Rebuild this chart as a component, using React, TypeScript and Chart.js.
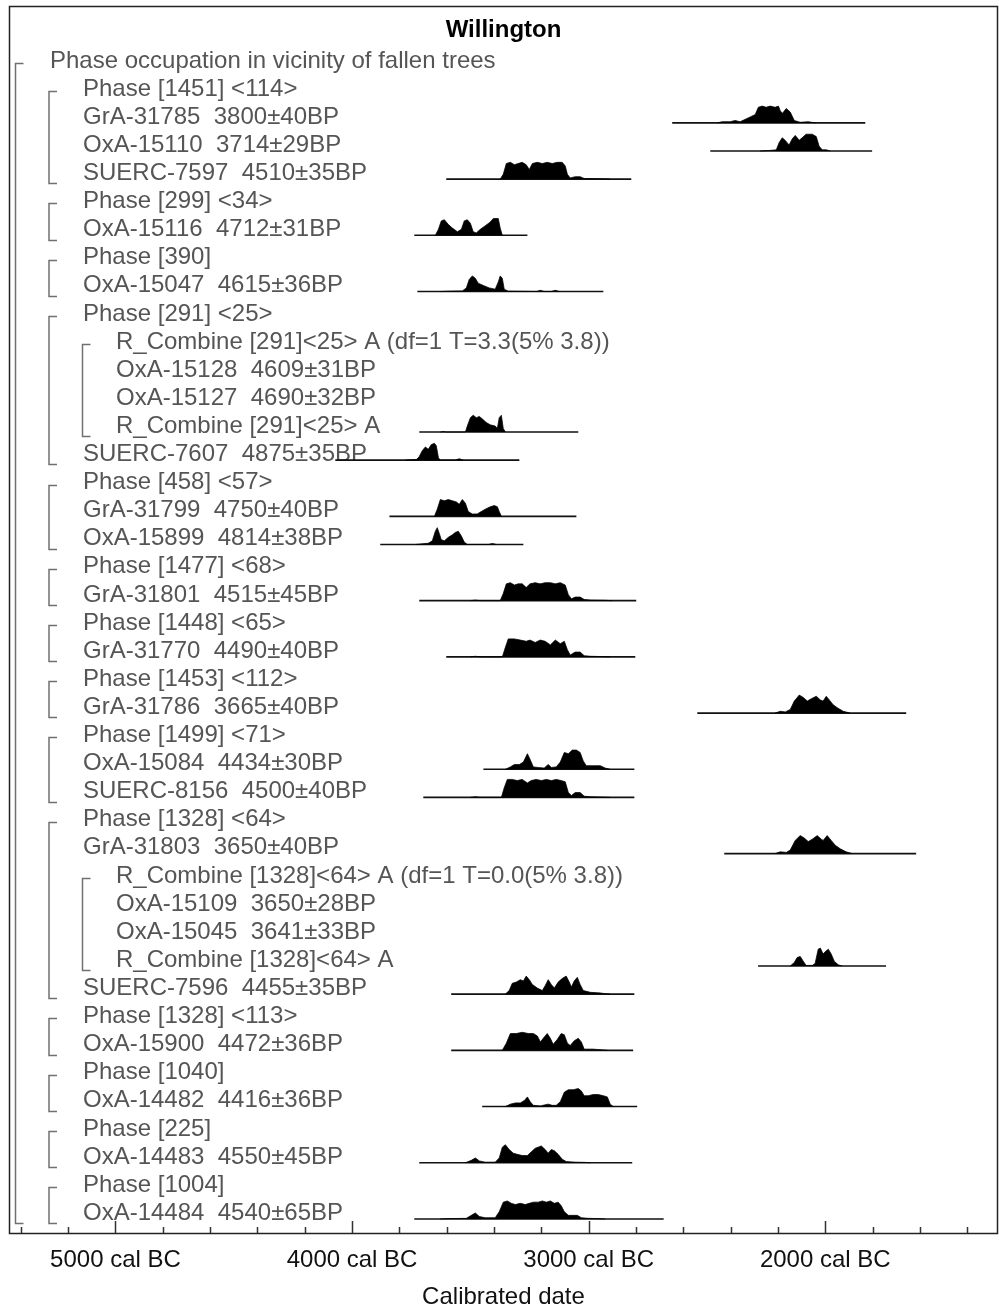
import React, { useEffect, useRef } from 'react';
import { Chart, registerables } from 'chart.js';

Chart.register(...registerables);

const titleText = 'Willington';
const axisTitle = 'Calibrated date';

const majorTickYears = [-5000, -4000, -3000, -2000];
const majorTickLabels = ['5000 cal BC', '4000 cal BC', '3000 cal BC', '2000 cal BC'];
const minorTickYears = [-5400, -5200, -4800, -4600, -4400, -4200, -3800, -3600, -3400, -3200, -2800, -2600, -2400, -2200, -1800, -1600, -1400];

const rowLabels = [
  'Phase occupation in vicinity of fallen trees',
  'Phase [1451] <114>',
  'GrA-31785  3800±40BP',
  'OxA-15110  3714±29BP',
  'SUERC-7597  4510±35BP',
  'Phase [299] <34>',
  'OxA-15116  4712±31BP',
  'Phase [390]',
  'OxA-15047  4615±36BP',
  'Phase [291] <25>',
  'R_Combine [291]<25> A (df=1 T=3.3(5% 3.8))',
  'OxA-15128  4609±31BP',
  'OxA-15127  4690±32BP',
  'R_Combine [291]<25> A',
  'SUERC-7607  4875±35BP',
  'Phase [458] <57>',
  'GrA-31799  4750±40BP',
  'OxA-15899  4814±38BP',
  'Phase [1477] <68>',
  'GrA-31801  4515±45BP',
  'Phase [1448] <65>',
  'GrA-31770  4490±40BP',
  'Phase [1453] <112>',
  'GrA-31786  3665±40BP',
  'Phase [1499] <71>',
  'OxA-15084  4434±30BP',
  'SUERC-8156  4500±40BP',
  'Phase [1328] <64>',
  'GrA-31803  3650±40BP',
  'R_Combine [1328]<64> A (df=1 T=0.0(5% 3.8))',
  'OxA-15109  3650±28BP',
  'OxA-15045  3641±33BP',
  'R_Combine [1328]<64> A',
  'SUERC-7596  4455±35BP',
  'Phase [1328] <113>',
  'OxA-15900  4472±36BP',
  'Phase [1040]',
  'OxA-14482  4416±36BP',
  'Phase [225]',
  'OxA-14483  4550±45BP',
  'Phase [1004]',
  'OxA-14484  4540±65BP',
];

const rowLevels = [
  0,
  1, 1, 1, 1,
  1, 1,
  1, 1,
  1, 2, 2, 2, 2, 1,
  1, 1, 1,
  1, 1,
  1, 1,
  1, 1,
  1, 1, 1,
  1, 1, 2, 2, 2, 2, 1,
  1, 1,
  1, 1,
  1, 1,
  1, 1,
];

// [first row, last row, header level]
const groups: [number, number, number][] = [
  [0, 41, 0],
  [1, 4, 1], [5, 6, 1], [7, 8, 1], [9, 14, 1], [10, 13, 2],
  [15, 17, 1], [18, 19, 1], [20, 21, 1], [22, 23, 1], [24, 26, 1],
  [27, 33, 1], [29, 32, 2], [34, 35, 1], [36, 37, 1], [38, 39, 1], [40, 41, 1],
];

// probability curves: [year (negative = BC), relative density]
const grA31785 = [[-2457,0],[-2436,1],[-2402,1],[-2381,2],[-2360,1],[-2338,3],[-2317,5],[-2296,7],[-2283,13],[-2266,14],[-2250,13],[-2233,14],[-2212,13],[-2198,14],[-2190,10],[-2181,8],[-2165,12],[-2148,9],[-2131,2],[-2106,0.5],[-2072,1],[-2042,0]];
const oxA15110 = [[-2275,0],[-2233,0.5],[-2207,1],[-2195,7],[-2182,11],[-2170,9],[-2153,5],[-2140,10],[-2127,13],[-2110,9],[-2098,11],[-2081,14],[-2055,14],[-2038,12],[-2026,4],[-2013,1],[-1996,1],[-1979,0]];
const suerc7597 = [[-3374,0],[-3361,4],[-3348,13],[-3331,14],[-3314,12],[-3298,13],[-3281,14],[-3264,12],[-3251,8],[-3238,13],[-3217,14],[-3196,13],[-3175,14],[-3154,13],[-3133,14],[-3112,14],[-3099,11],[-3090,4],[-3078,1],[-3057,2],[-3036,2],[-3019,0.5],[-2951,0.3],[-2909,0]];
const oxA15116 = [[-3648,0],[-3635,5],[-3623,12],[-3610,13],[-3593,9],[-3576,6],[-3555,3],[-3538,5],[-3526,12],[-3513,13],[-3500,10],[-3488,3],[-3475,2],[-3458,5],[-3437,8],[-3416,11],[-3403,14],[-3382,14],[-3374,6],[-3365,0]];
const oxA15047 = [[-3627,0],[-3585,0.3],[-3534,0.5],[-3517,3],[-3505,10],[-3492,13],[-3479,11],[-3467,7],[-3445,5],[-3420,3],[-3395,2],[-3382,8],[-3374,13],[-3365,11],[-3357,2],[-3340,0.3],[-3221,0],[-3204,1],[-3188,0],[-3158,0],[-3141,1],[-3124,0]];
const rCombine291 = [[-3627,0],[-3614,0.4],[-3602,0],[-3521,0],[-3513,5],[-3500,12],[-3488,14],[-3475,12],[-3462,13],[-3450,11],[-3433,8],[-3416,6],[-3395,5],[-3386,3],[-3378,12],[-3369,14],[-3361,3],[-3352,0]];
const suerc7607 = [[-3775,0],[-3754,0.4],[-3728,0.5],[-3716,3],[-3703,8],[-3690,11],[-3678,9],[-3665,13],[-3652,14],[-3644,12],[-3635,2],[-3627,0],[-3564,0],[-3547,1.2],[-3530,0]];
const grA31799 = [[-3652,0],[-3640,6],[-3627,14],[-3610,13],[-3593,14],[-3576,13],[-3559,12],[-3547,10],[-3534,14],[-3521,11],[-3509,4],[-3492,2],[-3471,2],[-3454,4],[-3437,6],[-3416,8],[-3399,9],[-3386,8],[-3378,4],[-3369,0]];
const oxA15899 = [[-3733,0],[-3703,0.5],[-3678,1],[-3661,3],[-3648,11],[-3640,14],[-3631,9],[-3623,4],[-3610,3],[-3593,6],[-3576,8],[-3564,10],[-3551,11],[-3538,7],[-3526,2],[-3513,0],[-3424,0],[-3407,0.8],[-3390,0]];
const grA31801 = [[-3500,0],[-3479,0.5],[-3458,0],[-3374,0],[-3361,6],[-3348,14],[-3331,15],[-3314,13],[-3298,14],[-3281,14],[-3264,11],[-3248,14],[-3226,15],[-3205,14],[-3184,15],[-3162,15],[-3141,14],[-3120,15],[-3099,13],[-3086,5],[-3073,1.5],[-3057,3],[-3036,3],[-3019,1],[-2993,0.5],[-2930,0.3],[-2900,0]];
const grA31770 = [[-3500,0],[-3479,0.5],[-3458,0],[-3365,0],[-3352,8],[-3340,15],[-3314,15],[-3289,14],[-3264,13],[-3248,14],[-3226,12],[-3205,14],[-3184,13],[-3162,10],[-3141,14],[-3120,11],[-3103,13],[-3090,6],[-3078,1.5],[-3057,4],[-3036,4],[-3019,1],[-2993,0.5],[-2951,0.3],[-2909,0]];
const grA31786 = [[-2212,0],[-2190,1.5],[-2169,1],[-2148,3],[-2131,10],[-2110,15],[-2093,13],[-2076,10],[-2059,12],[-2038,14],[-2021,11],[-2009,10],[-1996,14],[-1983,11],[-1967,7],[-1946,4],[-1924,1.5],[-1895,0]];
const oxA15084 = [[-3352,0],[-3331,2],[-3314,4],[-3293,4],[-3276,6],[-3259,13],[-3247,8],[-3234,2],[-3213,1.5],[-3188,1],[-3171,4],[-3158,1.5],[-3137,2],[-3120,6],[-3103,14],[-3086,13],[-3069,16],[-3052,16],[-3036,14],[-3023,7],[-3010,3],[-2985,3],[-2951,3],[-2930,1],[-2909,0]];
const suerc8156 = [[-3500,0],[-3479,0.5],[-3458,0],[-3369,0],[-3357,8],[-3344,15],[-3323,15],[-3302,14],[-3281,15],[-3259,12],[-3243,14],[-3222,15],[-3200,14],[-3179,15],[-3158,14],[-3137,15],[-3116,14],[-3099,13],[-3086,4],[-3073,1.5],[-3057,4],[-3036,4],[-3019,1],[-2993,0.5],[-2951,0.3],[-2909,0]];
const grA31803 = [[-2212,0],[-2190,1.5],[-2165,1],[-2148,3],[-2127,11],[-2106,15],[-2089,13],[-2072,10],[-2055,12],[-2034,15],[-2017,12],[-2009,11],[-1992,15],[-1975,11],[-1958,7],[-1937,4],[-1912,1.5],[-1886,0]];
const rCombine1328 = [[-2148,0],[-2131,3],[-2119,7],[-2106,8],[-2093,4],[-2081,0.5],[-2055,0.5],[-2043,2],[-2030,14],[-2021,15],[-2009,10],[-2000,12],[-1987,14],[-1975,10],[-1962,4],[-1945,1],[-1929,0]];
const suerc7596 = [[-3352,0],[-3336,3],[-3323,9],[-3306,10],[-3289,12],[-3276,11],[-3264,15],[-3251,12],[-3238,8],[-3217,5],[-3196,3],[-3184,7],[-3171,12],[-3158,8],[-3145,5],[-3129,10],[-3112,13],[-3095,15],[-3082,10],[-3073,6],[-3061,11],[-3048,14],[-3036,8],[-3023,3],[-2993,1.5],[-2951,1],[-2930,0.3],[-2909,0]];
const oxA15900 = [[-3365,0],[-3348,6],[-3331,14],[-3306,14],[-3281,15],[-3255,14],[-3234,14],[-3217,12],[-3204,7],[-3192,10],[-3175,14],[-3162,10],[-3150,5],[-3133,9],[-3116,14],[-3103,13],[-3090,6],[-3078,4],[-3061,8],[-3044,10],[-3031,7],[-3019,1],[-2981,1],[-2951,0.5],[-2921,0]];
const oxA14482 = [[-3352,0],[-3331,2],[-3310,3],[-3289,3],[-3272,5],[-3259,8],[-3247,4],[-3234,1],[-3204,0.5],[-3183,1.5],[-3171,2],[-3154,1],[-3137,1],[-3120,4],[-3103,12],[-3086,14],[-3065,14],[-3044,15],[-3031,13],[-3019,9],[-3002,9],[-2981,10],[-2960,10],[-2938,9],[-2921,8],[-2909,2],[-2896,0]];
const oxA14483 = [[-3521,0],[-3496,2],[-3479,4],[-3462,1.5],[-3437,0.5],[-3395,0.5],[-3378,4],[-3365,13],[-3352,15],[-3336,11],[-3319,8],[-3302,7],[-3281,6],[-3259,6],[-3243,9],[-3226,12],[-3200,14],[-3184,11],[-3171,8],[-3158,11],[-3145,10],[-3129,7],[-3112,3],[-3095,1],[-3057,0.5],[-3015,0.3],[-2993,0]];
const oxA14484 = [[-3627,0],[-3585,0.3],[-3517,0.5],[-3496,3],[-3479,5],[-3462,2],[-3437,1],[-3395,1],[-3378,6],[-3361,14],[-3344,15],[-3327,13],[-3310,12],[-3289,13],[-3268,12],[-3251,13],[-3234,14],[-3213,14],[-3196,15],[-3179,14],[-3162,15],[-3145,13],[-3129,14],[-3116,11],[-3103,6],[-3086,3],[-3065,3],[-3048,3],[-3031,1],[-3002,0.5],[-2964,0.3],[-2930,0]];

const distRows = [2, 3, 4, 6, 8, 13, 14, 16, 17, 19, 21, 23, 25, 26, 28, 32, 33, 35, 37, 39, 41];
const distCurves = [grA31785, oxA15110, suerc7597, oxA15116, oxA15047, rCombine291, suerc7607, grA31799, oxA15899, grA31801, grA31770, grA31786, oxA15084, suerc8156, grA31803, rCombine1328, suerc7596, oxA15900, oxA14482, oxA14483, oxA14484];
const distRanges = [
  [-2647, -1831], [-2486, -1802], [-3602, -2820], [-3737, -3259], [-3724, -2938],
  [-3716, -3044], [-4071, -3293], [-3842, -3052], [-3881, -3276], [-3716, -2799],
  [-3602, -2803], [-2541, -1658], [-3445, -2807], [-3699, -2807], [-2427, -1616],
  [-2284, -1743], [-3581, -2807], [-3581, -2812], [-3450, -2795], [-3716, -2816],
  [-3737, -2683],
];

const FONT = '"Liberation Sans", Arial, Helvetica, sans-serif';
const BASE_OFFSET = 0.24; // baseline below row centre, in row units
const DENS_SCALE = 1.2 / 28.1; // density unit -> row units

const oxcalPlugin = {
  id: 'oxcalDecor',
  beforeDatasetsDraw(chart: any) {
    const { ctx, chartArea: a, scales } = chart;
    const y = scales.y;
    ctx.save();
    ctx.fillStyle = '#000';
    ctx.font = `bold 24px ${FONT}`;
    ctx.textAlign = 'center';
    ctx.textBaseline = 'middle';
    ctx.fillText(titleText, (a.left + a.right) / 2, a.top + 24);

    ctx.font = `24px ${FONT}`;
    ctx.fillStyle = '#555555';
    ctx.textAlign = 'left';
    rowLabels.forEach((t, i) => {
      ctx.fillText(t, a.left + 41 + 33 * rowLevels[i], y.getPixelForValue(i) + 1);
    });

    ctx.strokeStyle = '#707070';
    ctx.lineWidth = 1.5;
    groups.forEach(([f, l, lev]) => {
      const bx = a.left + 6.5 + 33.5 * lev;
      const y1 = Math.round(y.getPixelForValue(f)) + 3.5;
      const y2 = Math.round(y.getPixelForValue(l)) + 11.5;
      ctx.beginPath();
      ctx.moveTo(bx + 8, y1);
      ctx.lineTo(bx, y1);
      ctx.lineTo(bx, y2);
      ctx.lineTo(bx + 8, y2);
      ctx.stroke();
    });
    ctx.restore();
  },
  afterDraw(chart: any) {
    const { ctx, chartArea: a, scales } = chart;
    const x = scales.x;
    ctx.save();
    ctx.strokeStyle = '#222';
    ctx.lineWidth = 1.5;
    ctx.strokeRect(a.left + 0.5, a.top + 0.5, a.right - a.left - 1, a.bottom - a.top);

    ctx.strokeStyle = '#333';
    ctx.lineWidth = 1.5;
    ctx.beginPath();
    majorTickYears.forEach((v) => {
      const px = Math.round(x.getPixelForValue(v)) + 0.5;
      ctx.moveTo(px, a.bottom);
      ctx.lineTo(px, a.bottom - 12);
    });
    minorTickYears.forEach((v) => {
      const px = Math.round(x.getPixelForValue(v)) + 0.5;
      ctx.moveTo(px, a.bottom);
      ctx.lineTo(px, a.bottom - 6);
    });
    ctx.stroke();

    ctx.fillStyle = '#111';
    ctx.font = `24px ${FONT}`;
    ctx.textAlign = 'center';
    ctx.textBaseline = 'middle';
    majorTickYears.forEach((v, i) => {
      ctx.fillText(majorTickLabels[i], x.getPixelForValue(v), a.bottom + 27);
    });
    ctx.fillText(axisTitle, (a.left + a.right) / 2, a.bottom + 64);
    ctx.restore();
  },
};

export default function App() {
  const canvasRef = useRef<HTMLCanvasElement | null>(null);

  useEffect(() => {
    const canvas = canvasRef.current;
    if (!canvas) return;
    const datasets: any[] = [];
    distRows.forEach((row, i) => {
      const base = row + BASE_OFFSET;
      datasets.push({
        data: distCurves[i].map(([yr, d]) => ({ x: yr, y: base - d * DENS_SCALE })),
        borderColor: '#000',
        backgroundColor: '#000',
        borderWidth: 0.75,
        pointRadius: 0,
        tension: 0,
        fill: { value: base },
      });
      datasets.push({
        data: distRanges[i].map((yr) => ({ x: yr, y: base })),
        borderColor: '#111',
        borderWidth: 1.6,
        pointRadius: 0,
        fill: false,
      });
    });

    const chart = new Chart(canvas, {
      type: 'line',
      data: { datasets },
      options: {
        responsive: false,
        animation: false,
        devicePixelRatio: 1,
        layout: { padding: { left: 9, right: 1, top: 6, bottom: 78 } },
        scales: {
          x: { type: 'linear', min: -5450, max: -1270, display: false },
          y: { type: 'linear', min: -1.92, max: 41.74, reverse: true, display: false },
        },
        plugins: { legend: { display: false }, tooltip: { enabled: false } },
      },
      plugins: [oxcalPlugin],
    } as any);
    return () => chart.destroy();
  }, []);

  return (
    <div style={{ position: 'absolute', left: 0, top: 0, width: 999, height: 1311, background: '#fff' }}>
      <canvas ref={canvasRef} width={999} height={1311} style={{ display: 'block' }} />
    </div>
  );
}
